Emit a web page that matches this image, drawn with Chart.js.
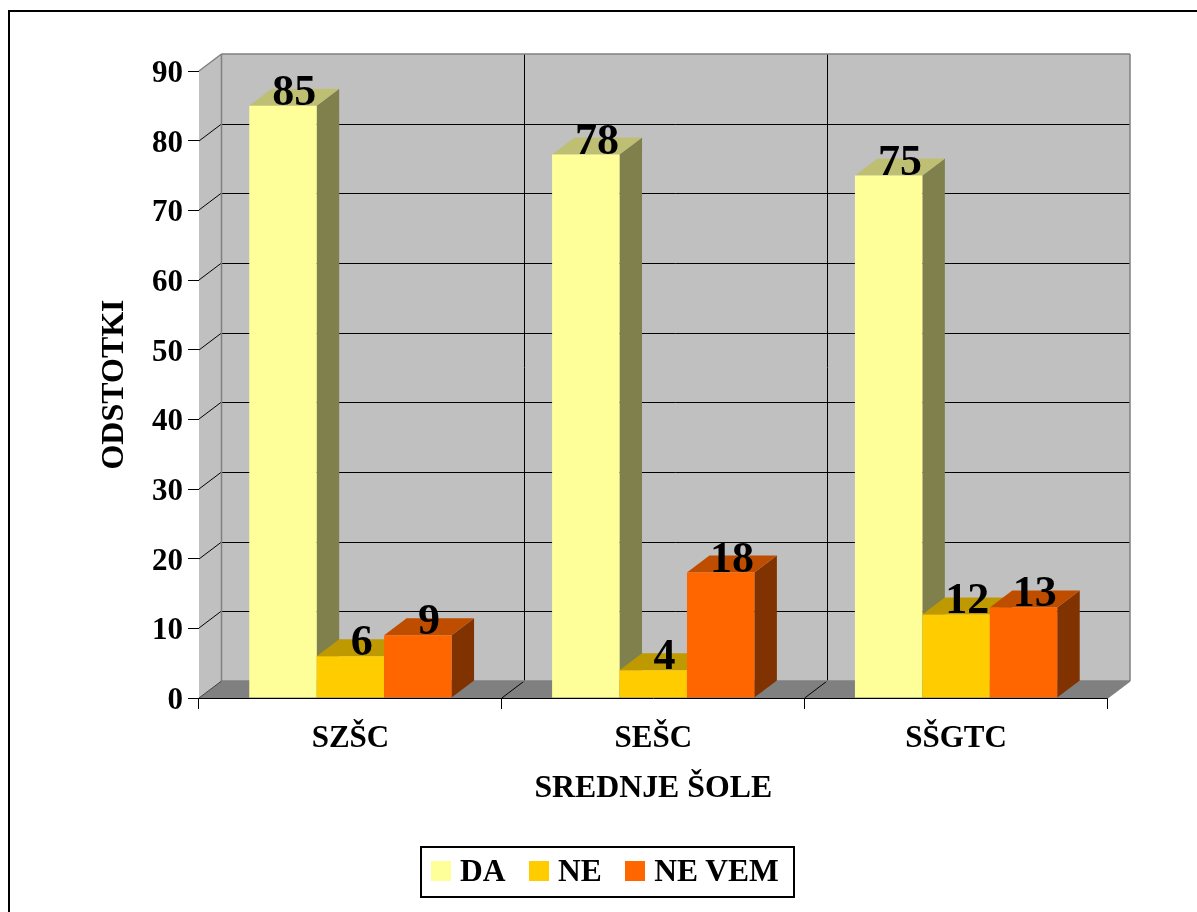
<!DOCTYPE html>
<html>
<head>
<meta charset="utf-8">
<title>Srednje šole</title>
<script src="https://cdn.jsdelivr.net/npm/chart.js@4"></script>
<style>
  html, body { margin: 0; padding: 0; background: #fff; overflow: hidden; }
  #page { position: relative; width: 1197px; height: 912px; overflow: hidden; }
  #frame { position: absolute; left: 8px; top: 10px; width: 1300px; height: 1000px; border: 2px solid #000; }
  canvas { position: absolute; left: 0; top: 0; }
  #legend {
    position: absolute; left: 420px; top: 846px; width: 375px; height: 52px;
    border: 2px solid #000; display: flex; align-items: center; padding: 0 0 2px 9px; box-sizing: border-box;
    font: bold 31.5px "Liberation Serif", serif; color: #000; white-space: nowrap;
  }
  #legend .item { display: flex; align-items: center; margin-right: 23.5px; flex: none; }
  #legend .swatch { width: 20px; height: 20px; margin-right: 9px; }
</style>
</head>
<body>
<div id="page">
  <div id="frame"></div>
  <canvas id="chart" width="1197" height="912"></canvas>
  <div id="legend"></div>
</div>
<script>
const categories = ['SZŠC', 'SEŠC', 'SŠGTC']
const seriesNames = ['DA', 'NE', 'NE VEM']
const daValues = [85, 78, 75]
const neValues = [6, 4, 12]
const neVemValues = [9, 18, 13]

const frontColors = ['#ffff99', '#ffcc00', '#ff6600']
const topColors = ['#bfbf73', '#bf9900', '#bf4d00']
const sideColors = ['#80804d', '#806600', '#803300']

const serif = '"Liberation Serif", "Times New Roman", serif'
const depthX = 22.5
const depthY = 17

Chart.defaults.font.family = serif
Chart.defaults.font.weight = 'bold'
Chart.defaults.font.size = 31
Chart.defaults.color = '#000'

function poly(ctx, pts, fill, stroke) {
    ctx.beginPath()
    pts.forEach((p, i) => i ? ctx.lineTo(p[0], p[1]) : ctx.moveTo(p[0], p[1]))
    ctx.closePath()
    if (fill) { ctx.fillStyle = fill; ctx.fill() }
    if (stroke) { ctx.strokeStyle = stroke; ctx.lineWidth = 1; ctx.stroke() }
}

function line(ctx, x1, y1, x2, y2, color, width) {
    ctx.beginPath()
    ctx.moveTo(x1, y1)
    ctx.lineTo(x2, y2)
    ctx.strokeStyle = color
    ctx.lineWidth = width || 1
    ctx.stroke()
}

// walls, floor and gridlines of the 3d box
const box3d = {
    id: 'box3d',
    beforeDatasetsDraw(chart) {
        const ctx = chart.ctx
        const { left, right, top, bottom } = chart.chartArea
        const yScale = chart.scales.y
        ctx.save()
        poly(ctx, [[left + depthX, top - depthY], [right + depthX, top - depthY], [right + depthX, bottom - depthY], [left + depthX, bottom - depthY]], '#c0c0c0')
        poly(ctx, [[left, top], [left + depthX, top - depthY], [left + depthX, bottom - depthY], [left, bottom]], '#c0c0c0')
        poly(ctx, [[left, bottom], [left + depthX, bottom - depthY], [right + depthX, bottom - depthY], [right, bottom]], '#808080')

        yScale.ticks.forEach(t => {
            if (t.value === 0 || t.value === yScale.max) return
            const y = Math.round(yScale.getPixelForValue(t.value))
            line(ctx, left, y, left + depthX, y - depthY, '#000')
            line(ctx, left + depthX, y - depthY + 0.5, right + depthX, y - depthY + 0.5, '#000')
        })
        const step = (right - left) / categories.length
        for (let i = 1; i < categories.length; i++) {
            const x = left + i * step
            line(ctx, x, bottom, x + depthX, bottom - depthY, '#000')
            line(ctx, Math.round(x + depthX) + 0.5, bottom - depthY, Math.round(x + depthX) + 0.5, top - depthY, '#000')
        }
        // gray edges of the box
        line(ctx, left, top, left + depthX, top - depthY, '#808080', 1.5)
        line(ctx, left + depthX, top - depthY, right + depthX, top - depthY, '#808080', 1.5)
        line(ctx, left + depthX, top - depthY, left + depthX, bottom - depthY, '#808080', 1.5)
        line(ctx, right + depthX, top - depthY, right + depthX, bottom - depthY, '#808080', 1.5)
        line(ctx, left + depthX, bottom - depthY, right + depthX, bottom - depthY, '#808080', 1.5)
        line(ctx, right, bottom, right + depthX, bottom - depthY, '#808080', 1.5)
        line(ctx, left, bottom, left + depthX, bottom - depthY, '#404040')
        ctx.restore()
    },
    // native order is last dataset first, so stop it and paint left to right
    beforeDatasetDraw() {
        return false
    },
    afterDatasetsDraw(chart) {
        const ctx = chart.ctx
        chart.data.datasets.forEach((ds, i) => {
            const meta = chart.getDatasetMeta(i)
            ctx.save()
            meta.data.forEach(bar => {
                const x1 = bar.x - bar.width / 2
                const x2 = bar.x + bar.width / 2
                poly(ctx, [[x2, bar.base], [x2 + depthX, bar.base - depthY], [x2 + depthX, bar.y - depthY], [x2, bar.y]], sideColors[i])
                poly(ctx, [[x1, bar.y], [x1 + depthX, bar.y - depthY], [x2 + depthX, bar.y - depthY], [x2, bar.y]], topColors[i])
            })
            ctx.restore()
            meta.controller.draw()
        })
        // value labels sit on the bar tops, shifted half way into the depth
        ctx.save()
        ctx.font = 'bold 44px ' + serif
        ctx.fillStyle = '#000'
        ctx.textAlign = 'center'
        ctx.textBaseline = 'alphabetic'
        chart.data.datasets.forEach((ds, i) => {
            chart.getDatasetMeta(i).data.forEach((bar, j) => {
                ctx.fillText(String(ds.data[j]), bar.x + depthX / 2, bar.y - 1)
            })
        })
        ctx.restore()
    }
}

new Chart(document.getElementById('chart'), {
    type: 'bar',
    data: {
        labels: categories,
        datasets: [daValues, neValues, neVemValues].map((vals, i) => ({
            label: seriesNames[i],
            data: vals,
            backgroundColor: frontColors[i],
            borderWidth: 0,
            barPercentage: 1,
            categoryPercentage: 0.668
        }))
    },
    options: {
        responsive: false,
        animation: false,
        layout: { padding: { left: 96, top: 71, right: 89.5, bottom: 104 } },
        plugins: { legend: { display: false }, tooltip: { enabled: false } },
        scales: {
            x: {
                afterFit(scale) { scale.height = 110 },
                grid: { drawOnChartArea: false, color: '#000', tickLength: 11, offset: true },
                border: { color: '#000', width: 1 },
                ticks: { padding: 11, maxRotation: 0 },
                title: { display: true, text: 'SREDNJE ŠOLE', padding: 0, font: { size: 31.8 } }
            },
            y: {
                min: 0,
                max: 90,
                afterFit(scale) { scale.width = 103 },
                grid: { drawOnChartArea: false, color: '#000', tickLength: 11 },
                border: { color: '#000', width: 1 },
                ticks: { stepSize: 10, padding: 5, labelOffset: 3 },
                title: { display: true, text: 'ODSTOTKI', padding: 0, font: { size: 32 } }
            }
        }
    },
    plugins: [box3d]
})

// legend
const legendEl = document.getElementById('legend')
seriesNames.forEach((name, i) => {
    const item = document.createElement('div')
    item.className = 'item'
    const swatch = document.createElement('div')
    swatch.className = 'swatch'
    swatch.style.background = frontColors[i]
    const label = document.createElement('span')
    label.textContent = name
    item.appendChild(swatch)
    item.appendChild(label)
    legendEl.appendChild(item)
})
</script>
</body>
</html>
